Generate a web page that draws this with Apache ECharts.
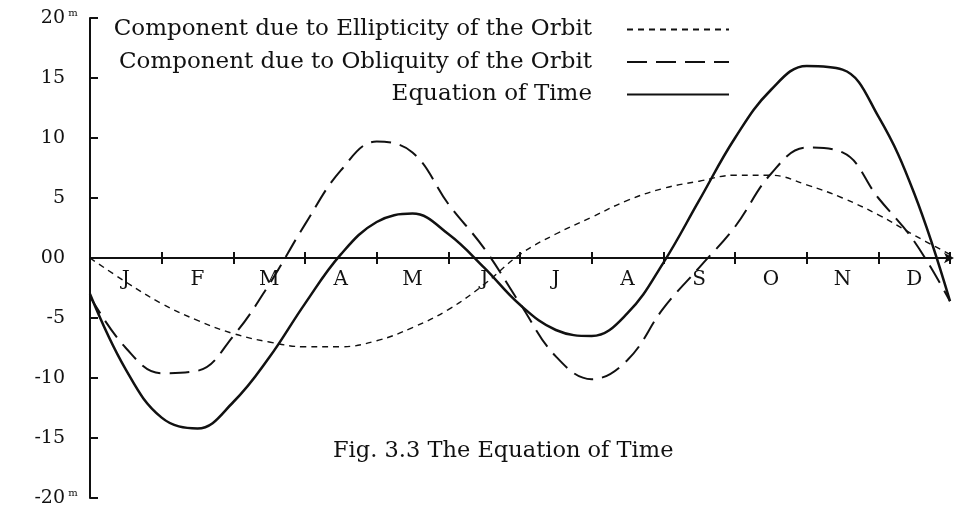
<!DOCTYPE html>
<html>
<head>
<meta charset="utf-8">
<script src="https://cdn.jsdelivr.net/npm/echarts@6/dist/echarts.min.js"></script>
<style>
  html, body { margin: 0; padding: 0; background: #fff; }
  #chart { width: 961px; height: 508px; }
</style>
</head>
<body>
<div id="chart"></div>
<script>
// month letters along the zero line
const monthLabels = ['J', 'F', 'M', 'A', 'M', 'J', 'J', 'A', 'S', 'O', 'N', 'D']

// sample positions in months from 1 Jan (0) to 31 Dec (12)
const monthPos = [0, 0.5, 1, 1.5, 2, 2.5, 3, 3.5, 4, 4.5, 5, 5.5, 6, 6.5, 7, 7.5, 8, 8.5, 9, 9.5, 10, 10.5, 11, 11.5, 12]

// minutes
const ellipticity = [0, -2.0, -3.8, -5.2, -6.3, -7.0, -7.4, -7.4, -6.9, -5.8, -4.3, -2.2, 0.3, 2.0, 3.4, 4.8, 5.8, 6.4, 6.9, 6.9, 6.1, 5.0, 3.6, 1.9, 0.3]
const obliquity = [-3.2, -7.5, -9.6, -9.4, -6.5, -2.2, 2.8, 7.3, 9.7, 8.8, 4.5, 0.8, -3.8, -8.2, -10.1, -8.5, -4.2, -0.8, 2.6, 7.0, 9.2, 8.8, 5.0, 1.4, -3.6]
const equationOfTime = [-3.0, -9.3, -13.3, -14.2, -12.0, -8.3, -3.8, 0.3, 3.0, 3.7, 2.0, -0.8, -3.9, -6.0, -6.5, -4.6, -0.4, 4.8, 10.0, 14.0, 16.0, 15.7, 11.8, 5.4, -3.6]

const seriesNames = [
  'Component due to Ellipticity of the Orbit',
  'Component due to Obliquity of the Orbit',
  'Equation of Time'
]

const serif = '"DejaVu Serif", "Liberation Serif", serif'
const ink = '#111'

function pairs(vals) {
  return monthPos.map((m, i) => [m, vals[i]])
}

const chart = echarts.init(document.getElementById('chart'))

// one legend per series so the line samples line up on the right
const legends = seriesNames.map((name, i) => ({
  data: [name],
  right: 226,
  top: 13 + i * 32.5,
  align: 'right',
  itemWidth: 102,
  itemHeight: 10,
  selectedMode: false,
  itemStyle: { opacity: 0 },
  textStyle: {
    fontFamily: serif,
    fontSize: 23,
    color: ink,
    padding: [0, 30, 0, 0]
  }
}))

const option = {
  animation: false,
  backgroundColor: '#fff',
  title: {
    text: 'Fig. 3.3 The Equation of Time',
    left: 328,
    top: 435,
    textStyle: { fontFamily: serif, fontSize: 22.5, fontWeight: 'normal', color: ink }
  },
  legend: legends,
  grid: [
    // plotting area, -20..20
    { left: 90, right: 11, top: 18, bottom: 10, outerBoundsMode: 'none', containLabel: false },
    // upper half only, its bottom edge is the zero line carrying the months
    { left: 90, right: 11, top: 18, bottom: 250, outerBoundsMode: 'none', containLabel: false }
  ],
  xAxis: [
    {
      type: 'category',
      gridIndex: 1,
      data: monthLabels,
      boundaryGap: true,
      axisLine: {
        onZero: false,
        symbol: ['none', 'arrow'],
        symbolSize: [8, 10],
        symbolOffset: [0, 4],
        lineStyle: { color: ink, width: 2 }
      },
      axisTick: { show: true, length: 6, lineStyle: { color: ink, width: 2 } },
      axisLabel: { margin: 12, fontFamily: serif, fontSize: 20, color: ink },
      splitLine: { show: false }
    },
    {
      type: 'value',
      gridIndex: 1,
      position: 'bottom',
      min: 0,
      max: 12,
      interval: 1,
      axisLine: { show: false, onZero: false },
      axisTick: { show: true, inside: true, length: 6, lineStyle: { color: ink, width: 2 } },
      axisLabel: { show: false },
      splitLine: { show: false }
    },
    {
      type: 'value',
      gridIndex: 0,
      min: 0,
      max: 12,
      show: false
    }
  ],
  yAxis: [
    {
      type: 'value',
      gridIndex: 0,
      min: -20,
      max: 20,
      interval: 5,
      axisLine: { show: true, onZero: false, lineStyle: { color: ink, width: 2 } },
      axisTick: { show: true, inside: true, length: 8, lineStyle: { color: ink, width: 2 } },
      splitLine: { show: false },
      axisLabel: {
        margin: 12,
        fontFamily: serif,
        fontSize: 19,
        color: ink,
        formatter: v => {
          const t = v === 0 ? '00' : String(v)
          return Math.abs(v) === 20 ? '{n|' + t + '}{m|m}' : '{n|' + t + '}{m| }'
        },
        rich: {
          n: { fontFamily: serif, fontSize: 19, color: ink },
          m: { fontFamily: serif, fontSize: 10, color: ink, width: 10, align: 'left', verticalAlign: 'top', padding: [0, 0, 10, 3] }
        }
      }
    },
    {
      type: 'value',
      gridIndex: 1,
      min: 0,
      max: 1,
      show: false
    }
  ],
  series: [
    {
      name: seriesNames[0],
      type: 'line',
      xAxisIndex: 2,
      yAxisIndex: 0,
      data: pairs(ellipticity),
      smooth: 0.4,
      showSymbol: false,
      symbol: 'none',
      lineStyle: { color: ink, width: 1.4, type: [6, 5] },
      itemStyle: { color: ink }
    },
    {
      name: seriesNames[1],
      type: 'line',
      xAxisIndex: 2,
      yAxisIndex: 0,
      data: pairs(obliquity),
      smooth: 0.4,
      showSymbol: false,
      symbol: 'none',
      lineStyle: { color: ink, width: 2, type: [20, 9] },
      itemStyle: { color: ink }
    },
    {
      name: seriesNames[2],
      type: 'line',
      xAxisIndex: 2,
      yAxisIndex: 0,
      data: pairs(equationOfTime),
      smooth: 0.4,
      showSymbol: false,
      symbol: 'none',
      lineStyle: { color: ink, width: 2.5 },
      itemStyle: { color: ink }
    }
  ]
}

chart.setOption(option)
</script>
</body>
</html>
